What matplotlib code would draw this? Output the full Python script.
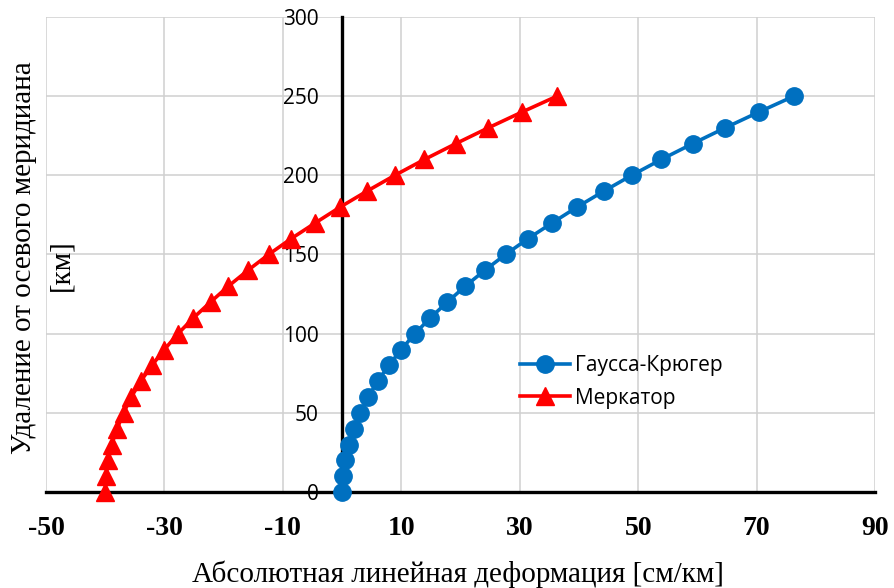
import matplotlib.pyplot as plt
import numpy as np

plt.rcParams["axes.unicode_minus"] = False

# distance from the central meridian, km
dist_km = [0, 10, 20, 30, 40, 50, 60, 70, 80, 90, 100, 110, 120, 130,
           140, 150, 160, 170, 180, 190, 200, 210, 220, 230, 240, 250]
# absolute linear distortion, cm/km
gauss_kruger = [0.0, 0.1, 0.5, 1.1, 2.0, 3.1, 4.4, 6.0, 7.9, 10.0, 12.3,
                14.9, 17.8, 20.8, 24.1, 27.6, 31.4, 35.5, 39.7, 44.2, 48.9,
                53.9, 59.2, 64.7, 70.4, 76.3]
mercator = [-40.0, -39.9, -39.5, -38.9, -38.0, -36.9, -35.6, -34.0, -32.1,
            -30.0, -27.7, -25.1, -22.2, -19.2, -15.9, -12.4, -8.6, -4.5,
            -0.3, 4.2, 8.9, 13.9, 19.2, 24.7, 30.4, 36.3]

xticks = np.arange(-50, 91, 20)
yticks = np.arange(0, 301, 50)

W, H = 894, 588
fig = plt.figure(figsize=(W / 100, H / 100), dpi=100)
ax = fig.add_axes([46 / W, (H - 492) / H, (875 - 46) / W, (492 - 17) / H])

ax.plot(gauss_kruger, dist_km, color="#0070C0", lw=2.6, marker="o",
        ms=12.5, label="Гаусса-Крюгер", zorder=3, clip_on=False)
ax.plot(mercator, dist_km, color="#FF0000", lw=2.6, marker="^",
        ms=12.5, label="Меркатор", zorder=3, clip_on=False)

ax.set_xlim(-50, 90)
ax.set_ylim(0, 300)
ax.set_xticks(xticks)
ax.set_yticks(yticks)
ax.grid(True, color="#D0D0D0", lw=1.1)
ax.set_axisbelow(True)

for s in ("top", "right"):
    ax.spines[s].set_visible(False)
ax.spines["left"].set_position(("data", 0))
for s in ("left", "bottom"):
    ax.spines[s].set_linewidth(2.4)
    ax.spines[s].set_color("black")
    ax.spines[s].set_zorder(2.5)

ax.tick_params(axis="y", length=0, pad=17, labelsize=15)
ax.tick_params(axis="x", length=0, pad=17)
for lab in ax.get_yticklabels():
    lab.set_fontfamily("Open Sans")
for lab in ax.get_xticklabels():
    lab.set_fontfamily("Liberation Serif")
    lab.set_fontweight("bold")
    lab.set_fontsize(20)

fig.text(458 / W, 1 - 582 / H, "Абсолютная линейная деформация [см/км]",
         family="Liberation Serif", fontsize=21, ha="center", va="baseline")
fig.text(24 / W, 1 - 258 / H, "Удаление от осевого меридиана",
         family="Liberation Serif", fontsize=21, rotation=90,
         ha="center", va="center")
fig.text(61 / W, 1 - 265 / H, "[км]", family="Liberation Serif",
         fontsize=21, rotation=90, ha="center", va="center")

ax.legend(loc="center left", bbox_to_anchor=((520 - 46) / (875 - 46), (492 - 382) / 475),
          frameon=False, prop={"family": "Open Sans", "size": 15},
          handlelength=2.4, handletextpad=0.25, labelspacing=0.55,
          borderpad=0, borderaxespad=0)

fig.savefig("out.png", dpi=100)
